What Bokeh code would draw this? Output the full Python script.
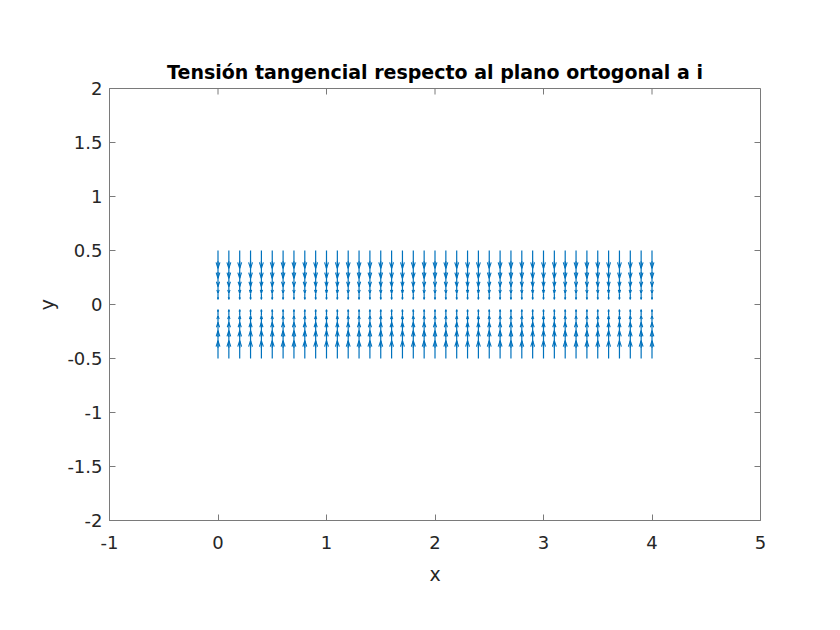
import numpy as np
from bokeh.plotting import figure
from bokeh.models import LinearAxis, FixedTicker, Range1d
from bokeh.embed import file_html
from bokeh.resources import INLINE

# ---- data ----
x_grid = [0.0, 0.1, 0.2, 0.3, 0.4, 0.5, 0.6, 0.7, 0.8, 0.9,
          1.0, 1.1, 1.2, 1.3, 1.4, 1.5, 1.6, 1.7, 1.8, 1.9,
          2.0, 2.1, 2.2, 2.3, 2.4, 2.5, 2.6, 2.7, 2.8, 2.9,
          3.0, 3.1, 3.2, 3.3, 3.4, 3.5, 3.6, 3.7, 3.8, 3.9, 4.0]
y_grid = [0.5, 0.4, 0.3, 0.2, 0.1, 0.0, -0.1, -0.2, -0.3, -0.4, -0.5]
u_vals = [0, 0, 0, 0, 0, 0, 0, 0, 0, 0, 0]
v_vals = [-1.0, -0.95, -0.81, -0.59, -0.31, 0.0, 0.31, 0.59, 0.81, 0.95, 1.0]

x_ticks = [-1, 0, 1, 2, 3, 4, 5]
x_tick_labels = {-1: "-1", 0: "0", 1: "1", 2: "2", 3: "3", 4: "4", 5: "5"}
y_ticks = [-2, -1.5, -1, -0.5, 0, 0.5, 1, 1.5, 2]
y_tick_labels = {-2: "-2", -1.5: "-1.5", -1: "-1", -0.5: "-0.5", 0: "0",
                 0.5: "0.5", 1: "1", 1.5: "1.5", 2: "2"}
x_lim = (-1, 5)
y_lim = (-2, 2)

title_text = "Tensión tangencial respecto al plano ortogonal a i"

# ---- styles ----
SCALE = 0.165
HEAD_LEN = 0.33
HEAD_W = 0.33
COLOR = "#0072BD"
AX = "#262626"
FRAME = "#7a7a7a"
FONT = "DejaVu Sans"

p = figure(width=800, height=620, output_backend="svg", toolbar_location=None,
           x_range=Range1d(*x_lim), y_range=Range1d(*y_lim),
           frame_width=651, frame_height=432,
           min_border_left=109, min_border_top=88, min_border_right=40,
           min_border_bottom=60,
           x_axis_location=None, y_axis_location=None,
           background_fill_color="white", border_fill_color="white")
p.grid.visible = False
p.outline_line_color = FRAME
p.outline_line_width = 1

p.title.text = title_text
p.title.align = "center"
p.title.text_font = FONT
p.title.text_font_size = "19px"
p.title.text_font_style = "bold"
p.title.text_color = "black"
p.title.standoff = 11

# quiver lines
shafts_x, shafts_y = [], []
heads_x, heads_y = [], []
for yi, ui, vi in zip(y_grid, u_vals, v_vals):
    for xi in x_grid:
        du = ui * SCALE
        dv = vi * SCALE
        if du == 0 and dv == 0:
            continue
        x1, y1 = xi + du, yi + dv
        shafts_x.append([xi, x1])
        shafts_y.append([yi, y1])
        hx = [x1 - HEAD_LEN * (du + HEAD_W * dv), x1, x1 - HEAD_LEN * (du - HEAD_W * dv)]
        hy = [y1 - HEAD_LEN * (dv - HEAD_W * du), y1, y1 - HEAD_LEN * (dv + HEAD_W * du)]
        heads_x.append(hx)
        heads_y.append(hy)

p.multi_line(shafts_x, shafts_y, line_color=COLOR, line_width=1.2)
p.multi_line(heads_x, heads_y, line_color=COLOR, line_width=1.1)


def style_axis(ax):
    ax.axis_line_color = FRAME
    ax.major_tick_line_color = FRAME
    ax.major_tick_in = 6
    ax.major_tick_out = 0
    ax.minor_tick_in = 0
    ax.minor_tick_out = 0
    ax.major_label_text_font = FONT
    ax.major_label_text_color = AX
    ax.major_label_text_font_size = "18px"
    ax.axis_label_text_font = FONT
    ax.axis_label_text_font_size = "19px"
    ax.axis_label_text_font_style = "normal"
    ax.axis_label_text_color = AX


xb = LinearAxis(ticker=FixedTicker(ticks=x_ticks), axis_label="x",
                major_label_overrides=x_tick_labels)
style_axis(xb)
xb.major_label_standoff = 15
xb.axis_label_standoff = 11
p.add_layout(xb, "below")

yl = LinearAxis(ticker=FixedTicker(ticks=y_ticks), axis_label="y",
                major_label_overrides=y_tick_labels)
style_axis(yl)
yl.major_label_standoff = 7
yl.axis_label_standoff = 6
p.add_layout(yl, "left")

# inward ticks on the top and right edges of the box
p.ray(x=x_ticks, y=[y_lim[1]] * len(x_ticks), length=6, length_units="screen",
      angle=-np.pi / 2, line_color=FRAME, line_width=1)
p.ray(x=[x_lim[1]] * len(y_ticks), y=y_ticks, length=6, length_units="screen",
      angle=np.pi, line_color=FRAME, line_width=1)

open("out.html", "w").write(file_html(p, INLINE))
